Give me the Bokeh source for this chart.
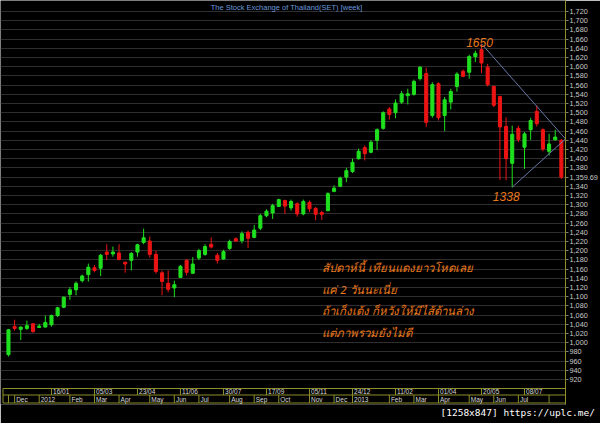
import numpy as np
from bokeh.plotting import figure
from bokeh.models import Range1d, FixedTicker, NumeralTickFormatter, ColumnDataSource, Title
from bokeh.core.properties import value
from bokeh.embed import file_html
from bokeh.resources import INLINE

# ---------------- data (weekly SET index) ----------------
opens = [974, 1035, 1029, 1031, 1041, 1033, 1034, 1039, 1059, 1077,
         1105, 1115, 1135, 1148, 1163, 1162, 1197, 1193, 1195, 1175,
         1179, 1197, 1218, 1221, 1192, 1152, 1129, 1119, 1142, 1179,
         1151, 1184, 1192, 1214, 1190, 1182, 1205, 1226, 1222, 1240,
         1229, 1249, 1276, 1282, 1296, 1309, 1293, 1302, 1280, 1305,
         1292, 1283, 1287, 1329, 1340, 1360, 1372, 1400, 1424, 1414,
         1440, 1466, 1508, 1500, 1523, 1537, 1540, 1574, 1585, 1494,
         1563, 1494, 1523, 1557, 1590, 1588, 1622, 1637, 1599, 1557,
         1535, 1470, 1390, 1466, 1425, 1463, 1503, 1463, 1416, 1441,
         1440]
highs = [1030, 1050, 1035, 1048, 1043, 1041, 1059, 1061, 1078, 1100,
         1121, 1133, 1148, 1172, 1169, 1193, 1214, 1209, 1214, 1176,
         1197, 1215, 1248, 1231, 1200, 1157, 1157, 1135, 1169, 1182,
         1186, 1204, 1214, 1229, 1195, 1202, 1224, 1229, 1242, 1244,
         1256, 1280, 1290, 1302, 1313, 1311, 1311, 1305, 1311, 1309,
         1295, 1287, 1327, 1342, 1361, 1380, 1400, 1422, 1429, 1440,
         1466, 1503, 1512, 1529, 1547, 1552, 1572, 1601, 1598, 1566,
         1566, 1534, 1552, 1588, 1594, 1626, 1635, 1650, 1606, 1559,
         1537, 1490, 1472, 1472, 1458, 1489, 1516, 1466, 1454, 1463,
         1443]
lows = [970, 1026, 1006, 1028, 1022, 1032, 1033, 1035, 1056, 1075,
        1093, 1103, 1131, 1133, 1153, 1145, 1180, 1187, 1179, 1152,
        1157, 1187, 1214, 1185, 1150, 1103, 1110, 1099, 1141, 1146,
        1150, 1180, 1189, 1205, 1172, 1180, 1202, 1219, 1216, 1206,
        1227, 1245, 1273, 1269, 1295, 1280, 1287, 1274, 1277, 1284,
        1266, 1267, 1286, 1327, 1338, 1349, 1369, 1398, 1396, 1412,
        1419, 1463, 1485, 1488, 1519, 1518, 1537, 1570, 1469, 1489,
        1483, 1460, 1507, 1546, 1577, 1574, 1610, 1586, 1557, 1512,
        1354, 1353, 1338, 1436, 1378, 1441, 1470, 1416, 1407, 1440,
        1356]
closes = [1028, 1031, 1034, 1037, 1024, 1036, 1044, 1059, 1076, 1099,
          1115, 1129, 1145, 1164, 1157, 1190, 1192, 1197, 1181, 1171,
          1194, 1213, 1228, 1192, 1155, 1133, 1116, 1126, 1166, 1153,
          1171, 1200, 1209, 1208, 1179, 1198, 1220, 1221, 1237, 1227,
          1245, 1276, 1286, 1298, 1311, 1297, 1307, 1280, 1307, 1291,
          1279, 1279, 1324, 1336, 1358, 1374, 1392, 1416, 1411, 1436,
          1463, 1500, 1496, 1521, 1541, 1541, 1568, 1599, 1479, 1561,
          1489, 1528, 1546, 1584, 1579, 1622, 1629, 1608, 1561, 1516,
          1469, 1400, 1453, 1442, 1454, 1483, 1476, 1421, 1432, 1447,
          1359.69]

week_labels = ["16/01", "05/03", "23/04", "11/06", "30/07", "17/09",
               "05/11", "24/12", "11/02", "01/04", "20/05", "08/07"]
week_label_idx = [7, 14, 21, 28, 35, 42, 49, 56, 63, 70, 77, 84]
month_labels = ["Dec", "2012", "Feb", "Mar", "Apr", "May", "Jun", "Jul", "Aug", "Sep",
                "Oct", "Nov", "Dec", "2013", "Feb", "Mar", "Apr", "May", "Jun", "Jul", ""]
month_label_idx = [1, 5, 10, 14, 18, 23, 27, 31, 36, 40,
                   44, 49, 53, 56, 62, 66, 70, 75, 79, 83, 88]
y_ticks = list(range(920, 1721, 20))

title_text = "The Stock Exchange of Thailand(SET) [week]"
peak_label = "1650"
trough_label = "1338"
comment_lines = ["สัปดาห์นี้ เทียนแดงยาวโหดเลย",
                 "แค่ 2 วันนะเนี่ย",
                 "ถ้าเก็งเด้ง ก็หวังให้มีไส้ด้านล่าง",
                 "แต่ภาพรวมยังไม่ดี"]
last_label = "1,359.69"
watermark = "[1258x847] https://uplc.me/"
apex_value = 1443

# ---------------- geometry (canvas pixels) ----------------
W, H = 600, 423
BL, BR, BT, BB = 0, 33, 0, 19
FW, FH = W - BL - BR, H - BT - BB          # 567 x 404
STEP = 6.165                               # pixels per weekly candle
PXX = 1 / STEP
X0 = -8 * PXX                              # first candle 8 px from the left
X1 = X0 + FW * PXX
Y1 = 1720 + 11 / 0.46
Y0 = 1720 - (FH - 11) / 0.46
PXY = (Y1 - Y0) / FH


def sx(px):  # canvas x -> data x
    return X0 + (px - BL) * PXX


def sy(py):  # canvas y -> data y
    return Y1 - (py - BT) * PXY


GREEN = "#1fe01f"
RED = "#ec1414"
OLIVE = "#8e8e2a"
ORANGE = "#e8781e"

p = figure(width=W, height=H, output_backend="svg", toolbar_location=None,
           x_range=Range1d(X0, X1), y_range=Range1d(Y0, Y1),
           x_axis_location=None, y_axis_location="right",
           min_border_left=BL, min_border_top=BT, min_border_right=BR,
           min_border_bottom=BB)
p.background_fill_color = "black"
p.border_fill_color = "black"
p.outline_line_color = None

# right price axis; the last close replaces the (covered) 1,360 tick
last_close = closes[-1]
axis_ticks = [t for t in y_ticks if abs(t - last_close) > 5] + [last_close]
ax = p.yaxis[0]
ax.ticker = FixedTicker(ticks=axis_ticks)
ax.formatter = NumeralTickFormatter(format="0,0")
ax.major_label_overrides = {last_close: last_label}
ax.axis_line_color = OLIVE
ax.major_tick_line_color = "#808060"
ax.major_tick_out = 3
ax.major_tick_in = 0
ax.minor_tick_line_color = None
ax.major_label_text_color = "#c8c8c8"
ax.major_label_text_font = "Liberation Sans"
ax.major_label_text_font_size = "7.3px"
ax.major_label_standoff = 1
p.ygrid.ticker = FixedTicker(ticks=y_ticks)
p.ygrid.grid_line_color = "#2e2e2e"
p.xgrid.visible = False

# ---------------- candles ----------------
idx = list(range(len(opens)))
colors = [GREEN if c >= o else RED for o, c in zip(opens, closes)]
src = ColumnDataSource(dict(x=idx, o=opens, h=highs, l=lows, c=closes,
                            top=[max(o, c) for o, c in zip(opens, closes)],
                            bot=[min(o, c) for o, c in zip(opens, closes)],
                            col=colors))
p.segment(x0="x", y0="l", x1="x", y1="h", color="col", line_width=1, source=src)
p.vbar(x="x", width=0.5, top="top", bottom="bot", fill_color="col",
       line_color="col", line_width=1, source=src)

# ---------------- triangle lines ----------------
i_peak = int(np.argmax(highs))
i_low = int(np.argmin(lows[60:])) + 60
p.line([i_peak, X1], [highs[i_peak], apex_value], line_color="#6a78a8", line_width=1)
p.line([i_low, X1], [lows[i_low], apex_value], line_color="#6a78a8", line_width=1)

p.text(x=[i_peak], y=[highs[i_peak] + 1 * PXY], text=[peak_label], text_align="center",
       text_baseline="alphabetic", text_color=ORANGE, text_font=value("Liberation Sans"),
       text_font_style="italic", text_font_size="12px", x_offset=-2)
p.text(x=[i_low], y=[lows[i_low] - 5 * PXY], text=[trough_label], text_align="center",
       text_baseline="top", text_color=ORANGE, text_font=value("Liberation Sans"),
       text_font_style="italic", text_font_size="12px", x_offset=-6)

# ---------------- comment ----------------
p.text(x=[sx(323)] * 4, y=[sy(267 + 21.5 * k) for k in range(4)], text=comment_lines,
       text_align="left", text_baseline="middle", text_color=ORANGE,
       text_font=value("Noto Sans"), text_font_style="italic", text_font_size="11.5px")

# ---------------- title ----------------
p.text(x=[sx(211)], y=[sy(2)], text=[title_text], text_align="left", text_baseline="top",
       text_color="#6a98dc", text_font=value("Liberation Sans"), text_font_size="7.5px")

# ---------------- date axis (two rows of boxes) ----------------
yt, ym, yb = sy(388), sy(394.5), sy(402.5)
x_left = sx(2.5)
p.segment(x0=[x_left] * 3, y0=[yt, ym, yb], x1=[X1] * 3, y1=[yt, ym, yb],
          line_color=OLIVE, line_width=1)
p.segment(x0=[x_left] * 2, y0=[yt, ym], x1=[x_left] * 2, y1=[ym, yb],
          line_color=OLIVE, line_width=1)
p.segment(x0=week_label_idx, y0=[yt] * len(week_label_idx), x1=week_label_idx,
          y1=[ym] * len(week_label_idx), line_color=OLIVE, line_width=1)
p.segment(x0=[0] + month_label_idx, y0=[ym] * (len(month_label_idx) + 1),
          x1=[0] + month_label_idx, y1=[yb] * (len(month_label_idx) + 1),
          line_color=OLIVE, line_width=1)
p.text(x=[i + 0.25 for i in week_label_idx], y=[(yt + ym) / 2] * len(week_label_idx),
       text=week_labels, text_align="left", text_baseline="middle", text_color="#d8d8d8",
       text_font=value("Liberation Sans"), text_font_size="6.5px")
p.text(x=[i + 0.25 for i in month_label_idx], y=[(ym + yb) / 2] * len(month_label_idx),
       text=month_labels, text_align="left", text_baseline="middle", text_color="#d8d8d8",
       text_font=value("Liberation Sans"), text_font_size="6.5px")

# ---------------- watermark (below title) ----------------
p.add_layout(Title(text=watermark, align="left", offset=440, standoff=3,
                   text_color="white", text_font="DejaVu Sans Mono",
                   text_font_size="9.5px", text_font_style="normal",
                   vertical_align="middle"), "below")

open("out.html", "w").write(file_html(p, INLINE))
